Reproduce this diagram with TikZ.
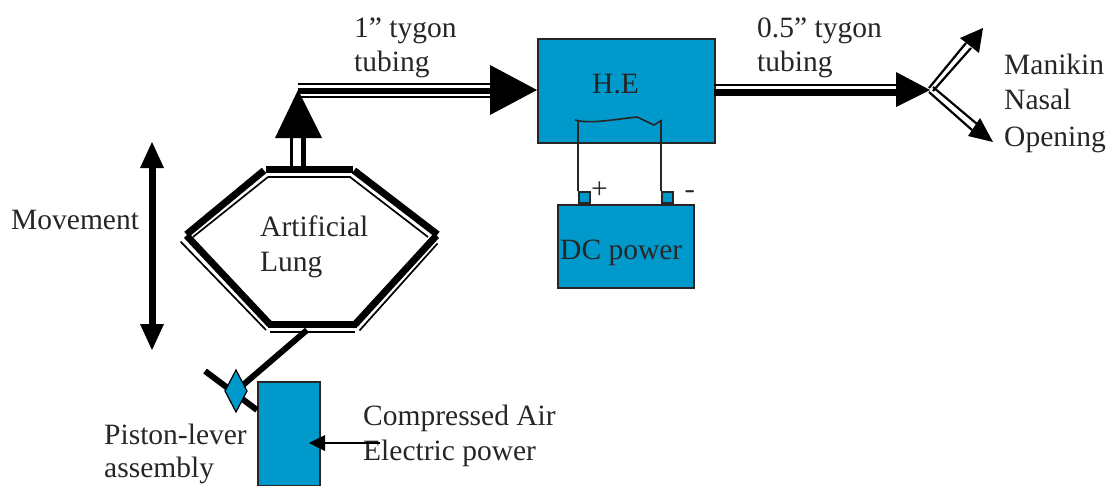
\documentclass[tikz,border=0pt]{standalone}
\usepackage{fontspec}
\setmainfont{Liberation Serif}
\usetikzlibrary{calc}
\definecolor{boxblue}{HTML}{0099CC}
\tikzset{
 x=1pt,y=-1pt,
 lbl/.style={anchor=base west,inner sep=0pt,font=\fontsize{29.5}{29.5}\selectfont,text=black!85,yshift=-1pt},
 bluebox/.style={draw=black!85,line width=2pt,fill=boxblue},
 heavy/.style={line width=7pt,black},
 slim/.style={line width=1.7pt,black},
 head/.style={fill=black,draw=none},
 wire/.style={line width=1.6pt,black!85},
}
\begin{document}
\begin{tikzpicture}
\useasboundingbox (0,0) rectangle (1115,485);
% hexagon
\draw[heavy] (266,169.5)--(353,169.5);
\draw[heavy] (264,170.5)--(186.5,234.5);
\draw[heavy] (354,170.5)--(437.5,234.5);
\draw[heavy] (186.5,235.5)--(270,324.5);
\draw[heavy] (436.5,235.5)--(355,324.5);
\draw[heavy] (268,324.5)--(357,324.5);
\draw[slim] (268,177)--(351,177);
\draw[slim] (268,177)--(193,237);
\draw[slim] (350,177)--(428,237);
\draw[slim] (180.5,241.5)--(266,330);
\draw[slim] (437.5,243.5)--(359.5,330.5);
\draw[slim] (270,332)--(355,332);
% piston box, lever
\node[bluebox,minimum width=62pt,minimum height=104pt,anchor=north west,inner sep=0] (piston) at (257,381) {};
\coordinate (lungbase) at (307,330);
\node[inner sep=0,minimum size=0pt] (pivot) at (236,391) {};
\draw[line width=6pt] (lungbase)--(pivot.center);
\coordinate (leverend) at (205,371);
\draw[line width=6pt] (leverend)--(piston.west |- 0,410);
\filldraw[draw=black,line width=1.2pt,fill=boxblue] (236,370)--(247,391)--(236,412)--(225,391)--cycle;
% heat exchanger, DC
\node[bluebox,minimum width=177pt,minimum height=104pt,anchor=north west,inner sep=0] (he) at (537,38) {};
\node[bluebox,minimum width=136pt,minimum height=83pt,anchor=north west,inner sep=0] (dc) at (557,204) {};
\node[bluebox,minimum width=11pt,minimum height=11pt,anchor=south west,inner sep=0,line width=1.6pt] (tplus) at (578,204) {};
\node[bluebox,minimum width=11pt,minimum height=11pt,anchor=south west,inner sep=0,line width=1.6pt] (tminus) at (661,204) {};
\draw[wire] (tplus.north west)--(578,120);
\draw[wire] (tminus.north west)--(661,120);
\draw[wire] (575,120) .. controls (590,124) and (610,120) .. (637,117) -- (654,125) -- (662,120);
% left tube
\draw[line width=3pt] (291.5,170)--(291.5,138);
\draw[line width=4.5pt] (303.5,170)--(303.5,138);
\fill[head] (298,90)--(322,138)--(275,138)--cycle;
\draw[line width=2pt] (298,83.5)--(495,83.5);
\draw[line width=6pt] (298,90.5)--(495,90.5);
\draw[line width=2pt] (298,97)--(495,97);
\fill[head] (537,90)--(490,65)--(490,115)--cycle;
% right tube
\draw[line width=2pt] (714,85)--(900,85);
\draw[line width=7pt] (714,92)--(900,92);
\fill[head] (930,90)--(896,72)--(896,107)--cycle;
% branches
\draw[line width=2.2pt] (929,88)--(966,43);
\draw[line width=2.2pt] (933,91)--(971,48);
\fill[head] (983,28)--(979,53)--(960,38)--cycle;
\draw[line width=2.2pt] (933,87)--(977,124);
\draw[line width=2.2pt] (929,92)--(972,130);
\fill[head] (993,142)--(968,136)--(980,118)--cycle;
% movement
\draw[line width=7pt] (152,165)--(152,327);
\fill[head] (152,142)--(164,168)--(140,168)--cycle;
\fill[head] (152,350)--(164,324)--(140,324)--cycle;
% air arrow
\coordinate (airend) at (380,443);
% labels
\node[lbl] at (354,36) {1” tygon};
\node[lbl] at (354,70) {tubing};
\node[lbl] at (757,36) {0.5” tygon};
\node[lbl] at (757,70) {tubing};
\node[lbl] at (1004,73) {Manikin};
\node[lbl] at (1004,108) {Nasal};
\node[lbl] at (1004,145) {Opening};
\node[lbl] at (592,92) {H.E};
\node[lbl] at (260,235) {Artificial};
\node[lbl] at (260,270) {Lung};
\node[lbl] at (560,258) {DC power};
\node[lbl] at (11,228) {Movement};
\node[lbl] at (363,424) {Compressed Air};
\node[lbl] at (363,459) {Electric power};
\node[lbl] at (104,443) {Piston-lever};
\node[lbl] at (104,476) {assembly};
\node[lbl] at (591,197) {+};
\node[lbl,font=\fontsize{29.5}{29.5}\sffamily\bfseries] at (685,197) {-};
\draw[line width=1.8pt] (airend)--(322,443);
\fill[head] (309,443)--(325,435)--(325,451)--cycle;
\end{tikzpicture}
\end{document}
